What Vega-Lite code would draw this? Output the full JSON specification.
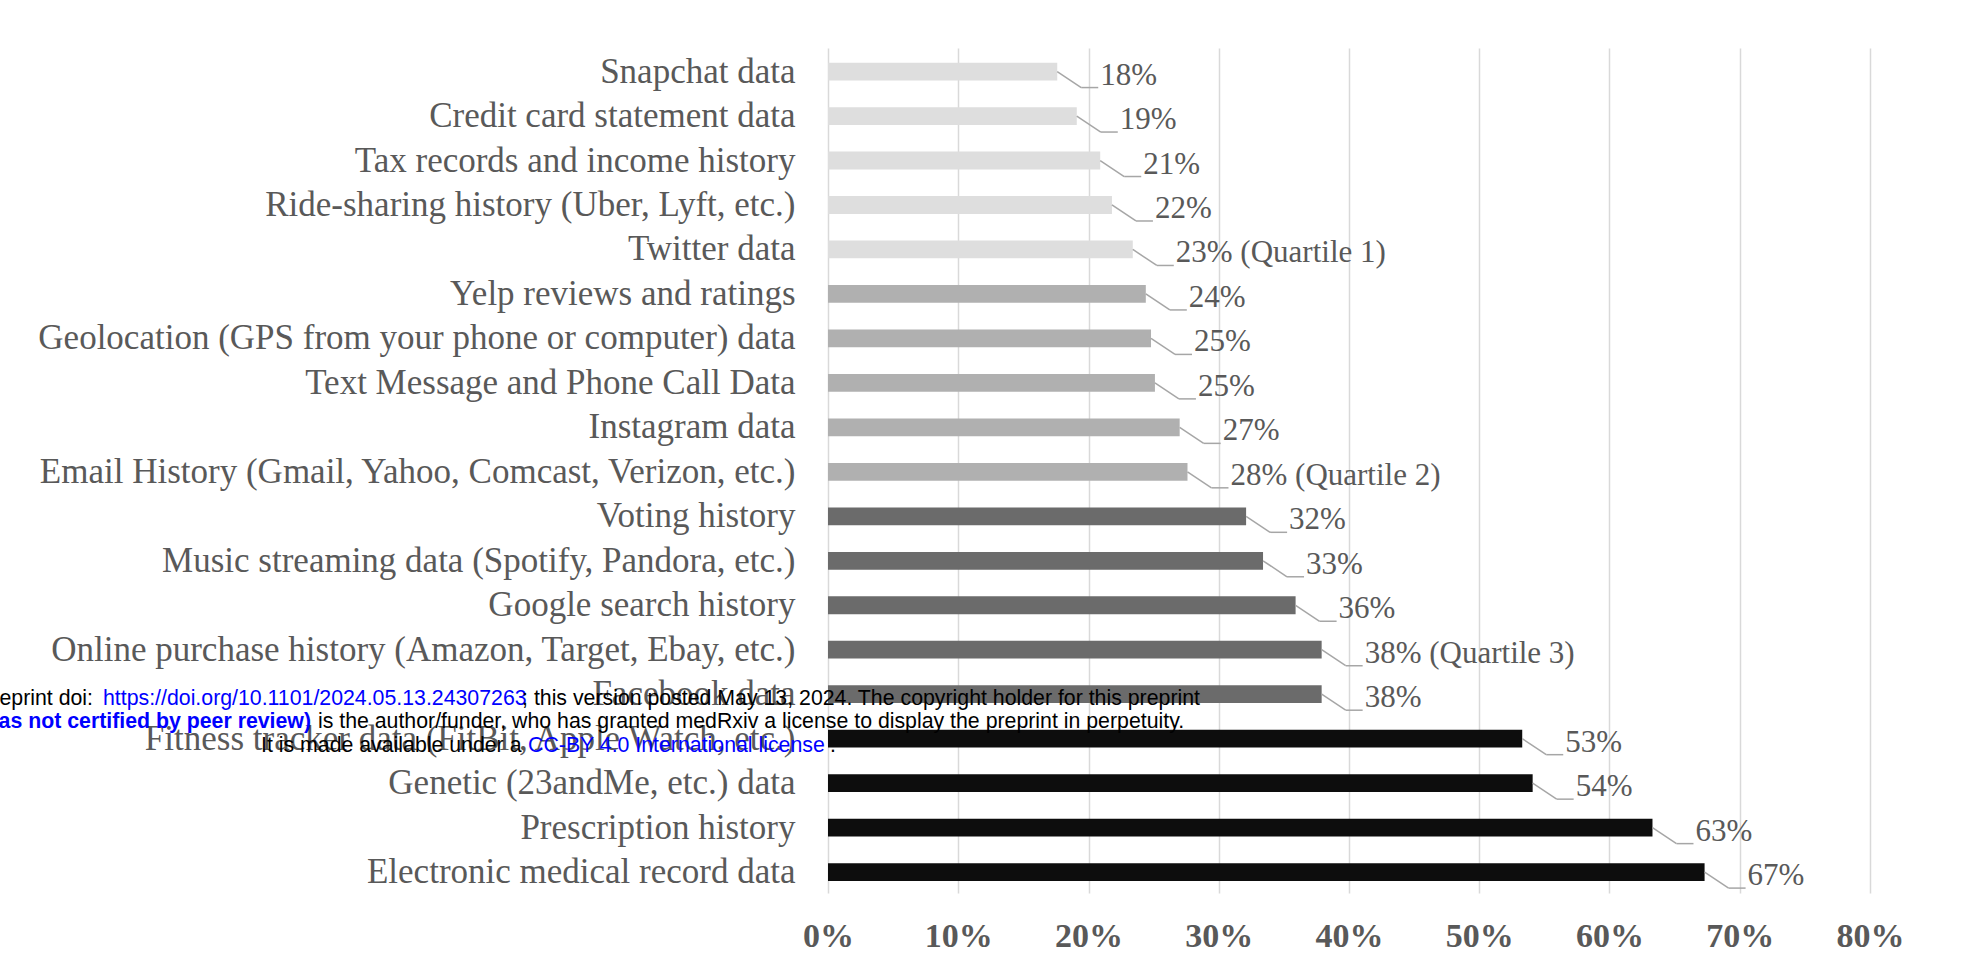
{
  "$schema": "https://vega.github.io/schema/vega-lite/v6.json",
  "width": 1042,
  "height": 845,
  "autosize": {"type": "none"},
  "padding": {"left": 828, "top": 48, "right": 91, "bottom": 81},
  "background": "white",
  "config": {"view": {"stroke": null}, "font": "Liberation Serif"},
  "data": {
    "values": [
      {"category": "Snapchat data", "value": 0.176, "label": "18%", "group": "Q1"},
      {"category": "Credit card statement data", "value": 0.191, "label": "19%", "group": "Q1"},
      {"category": "Tax records and income history", "value": 0.209, "label": "21%", "group": "Q1"},
      {"category": "Ride-sharing history (Uber, Lyft, etc.)", "value": 0.218, "label": "22%", "group": "Q1"},
      {"category": "Twitter data", "value": 0.234, "label": "23% (Quartile 1)", "group": "Q1"},
      {"category": "Yelp reviews and ratings", "value": 0.244, "label": "24%", "group": "Q2"},
      {"category": "Geolocation (GPS from your phone or computer) data", "value": 0.248, "label": "25%", "group": "Q2"},
      {"category": "Text Message and Phone Call Data", "value": 0.251, "label": "25%", "group": "Q2"},
      {"category": "Instagram data", "value": 0.270, "label": "27%", "group": "Q2"},
      {"category": "Email History (Gmail, Yahoo, Comcast, Verizon, etc.)", "value": 0.276, "label": "28% (Quartile 2)", "group": "Q2"},
      {"category": "Voting history", "value": 0.321, "label": "32%", "group": "Q3"},
      {"category": "Music streaming data (Spotify, Pandora, etc.)", "value": 0.334, "label": "33%", "group": "Q3"},
      {"category": "Google search history", "value": 0.359, "label": "36%", "group": "Q3"},
      {"category": "Online purchase history (Amazon, Target, Ebay, etc.)", "value": 0.379, "label": "38% (Quartile 3)", "group": "Q3"},
      {"category": "Facebook data", "value": 0.379, "label": "38%", "group": "Q3"},
      {"category": "Fitness tracker data (FitBit, Apple Watch, etc.)", "value": 0.533, "label": "53%", "group": "Q4"},
      {"category": "Genetic (23andMe, etc.) data", "value": 0.541, "label": "54%", "group": "Q4"},
      {"category": "Prescription history", "value": 0.633, "label": "63%", "group": "Q4"},
      {"category": "Electronic medical record data", "value": 0.673, "label": "67%", "group": "Q4"}
    ]
  },
  "encoding": {
    "y": {
      "field": "category",
      "type": "nominal",
      "sort": null,
      "scale": {"paddingInner": 0.6, "paddingOuter": 0.3, "align": 0.55},
      "axis": {
        "title": null,
        "ticks": false,
        "domain": false,
        "grid": false,
        "labelFont": "Liberation Serif",
        "labelFontSize": 35,
        "labelColor": "#595959",
        "labelPadding": 33,
        "labelLimit": 1200
      }
    }
  },
  "layer": [
    {
      "mark": {"type": "bar"},
      "encoding": {
        "x": {
          "field": "value",
          "type": "quantitative",
          "scale": {"domain": [0, 0.8], "nice": false, "zero": true},
          "axis": {
            "title": null,
            "values": [0, 0.1, 0.2, 0.3, 0.4, 0.5, 0.6, 0.7, 0.8],
            "format": ".0%",
            "grid": true,
            "gridColor": "#d9d9d9",
            "gridWidth": 1.5,
            "ticks": false,
            "domain": false,
            "labelFont": "Liberation Serif",
            "labelFontSize": 34,
            "labelFontWeight": "bold",
            "labelColor": "#595959",
            "labelPadding": 26,
            "labelFlush": false,
            "labelOverlap": false
          }
        },
        "color": {
          "field": "group",
          "type": "nominal",
          "scale": {"domain": ["Q1", "Q2", "Q3", "Q4"], "range": ["#dedede", "#b0b0b0", "#6b6b6b", "#0d0d0d"]},
          "legend": null
        }
      }
    },
    {
      "mark": {"type": "rule", "color": "#a6a6a6", "strokeWidth": 1.5, "x2Offset": 24, "y2Offset": 16},
      "encoding": {
        "x": {"field": "value", "type": "quantitative"},
        "x2": {"field": "value"},
        "y2": {"field": "category"}
      }
    },
    {
      "mark": {"type": "rule", "color": "#a6a6a6", "strokeWidth": 1.5, "xOffset": 24, "x2Offset": 41, "yOffset": 16, "y2Offset": 16},
      "encoding": {
        "x": {"field": "value", "type": "quantitative"},
        "x2": {"field": "value"},
        "y2": {"field": "category"}
      }
    },
    {
      "mark": {"type": "text", "align": "left", "baseline": "alphabetic", "dx": 43, "dy": 13, "font": "Liberation Serif", "fontSize": 31, "color": "#595959"},
      "encoding": {
        "x": {"field": "value", "type": "quantitative"},
        "text": {"field": "label"}
      }
    },
    {
      "data": {"values": [{}]},
      "mark": {"type": "text", "text": "medRxiv preprint doi:", "align": "right", "font": "Liberation Sans", "fontSize": 21.3, "color": "#000000", "dy": 5},
      "encoding": {"x": {"datum": -0.5643}, "y": {"datum": "Facebook data"}}
    },
    {
      "data": {"values": [{}]},
      "mark": {"type": "text", "text": "https://doi.org/10.1101/2024.05.13.24307263", "align": "left", "font": "Liberation Sans", "fontSize": 21.3, "color": "#0000ff", "dy": 5},
      "encoding": {"x": {"datum": -0.5566}, "y": {"datum": "Facebook data"}}
    },
    {
      "data": {"values": [{}]},
      "mark": {"type": "text", "text": "; this version posted May 13, 2024. The copyright holder for this preprint", "align": "left", "font": "Liberation Sans", "fontSize": 21.3, "color": "#000000", "dy": 5},
      "encoding": {"x": {"datum": -0.2349}, "y": {"datum": "Facebook data"}}
    },
    {
      "data": {"values": [{}]},
      "mark": {"type": "text", "text": "(which was not certified by peer review)", "align": "right", "font": "Liberation Sans", "fontWeight": "bold", "fontSize": 21.3, "color": "#0000ff", "dy": 28},
      "encoding": {"x": {"datum": -0.3969}, "y": {"datum": "Facebook data"}}
    },
    {
      "data": {"values": [{}]},
      "mark": {"type": "text", "text": "is the author/funder, who has granted medRxiv a license to display the preprint in perpetuity.", "align": "left", "font": "Liberation Sans", "fontSize": 21.3, "color": "#000000", "dy": 28},
      "encoding": {"x": {"datum": -0.3916}, "y": {"datum": "Facebook data"}}
    },
    {
      "data": {"values": [{}]},
      "mark": {"type": "text", "text": "It is made available under a", "align": "left", "font": "Liberation Sans", "fontSize": 21.3, "color": "#000000", "dy": 7},
      "encoding": {"x": {"datum": -0.4353}, "y": {"datum": "Fitness tracker data (FitBit, Apple Watch, etc.)"}}
    },
    {
      "data": {"values": [{}]},
      "mark": {"type": "text", "text": "CC-BY 4.0 International license", "align": "left", "font": "Liberation Sans", "fontSize": 21.3, "color": "#0000ff", "dy": 7},
      "encoding": {"x": {"datum": -0.2303}, "y": {"datum": "Fitness tracker data (FitBit, Apple Watch, etc.)"}}
    },
    {
      "data": {"values": [{}]},
      "mark": {"type": "text", "text": ".", "align": "left", "font": "Liberation Sans", "fontSize": 21.3, "color": "#000000", "dy": 7},
      "encoding": {"x": {"datum": 0.0015}, "y": {"datum": "Fitness tracker data (FitBit, Apple Watch, etc.)"}}
    }
  ]
}
